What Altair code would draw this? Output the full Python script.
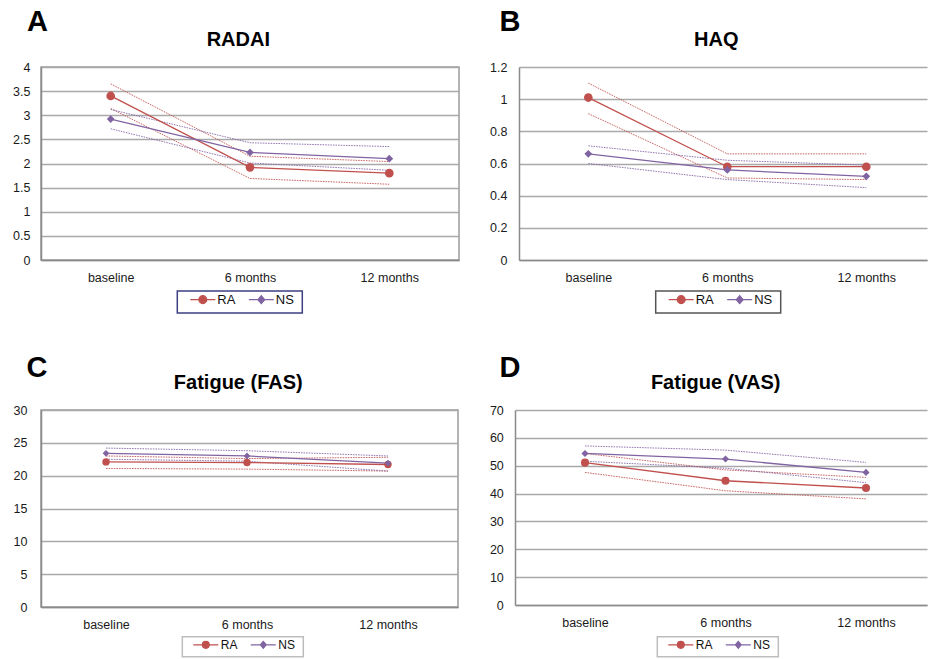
import altair as alt
import pandas as pd

# ---------------- data ----------------
timepoints = ["baseline", "6 months", "12 months"]
series_names = ["RA", "NS"]
series_colors = ["#c0504d", "#8064a2"]

panel_letters = ["A", "B", "C", "D"]
panel_titles = ["RADAI", "HAQ", "Fatigue (FAS)", "Fatigue (VAS)"]

# RADAI
radai_ra_mean = [3.40, 1.92, 1.80]
radai_ra_upper = [3.65, 2.15, 2.04]
radai_ra_lower = [3.14, 1.69, 1.57]
radai_ns_mean = [2.92, 2.23, 2.10]
radai_ns_upper = [3.12, 2.43, 2.35]
radai_ns_lower = [2.72, 2.01, 1.86]
radai_ticks = [0, 0.5, 1, 1.5, 2, 2.5, 3, 3.5, 4]

# HAQ
haq_ra_mean = [1.01, 0.58, 0.58]
haq_ra_upper = [1.10, 0.66, 0.66]
haq_ra_lower = [0.91, 0.51, 0.50]
haq_ns_mean = [0.66, 0.56, 0.52]
haq_ns_upper = [0.71, 0.62, 0.59]
haq_ns_lower = [0.60, 0.50, 0.45]
haq_ticks = [0, 0.2, 0.4, 0.6, 0.8, 1, 1.2]

# Fatigue (FAS)
fas_ra_mean = [22.1, 22.0, 21.7]
fas_ra_upper = [23.0, 22.6, 22.8]
fas_ra_lower = [21.1, 21.0, 20.7]
fas_ns_mean = [23.4, 23.0, 21.9]
fas_ns_upper = [24.2, 23.8, 23.0]
fas_ns_lower = [22.5, 22.2, 20.7]
fas_ticks = [0, 5, 10, 15, 20, 25, 30]

# Fatigue (VAS)
vas_ra_mean = [51.1, 44.6, 42.0]
vas_ra_upper = [54.4, 48.5, 45.8]
vas_ra_lower = [47.6, 41.0, 38.1]
vas_ns_mean = [54.4, 52.4, 47.6]
vas_ns_upper = [57.1, 55.6, 51.2]
vas_ns_lower = [51.6, 49.1, 43.9]
vas_ticks = [0, 10, 20, 30, 40, 50, 60, 70]

FONT = "Liberation Sans"


def make_df(ra_mean, ra_upper, ra_lower, ns_mean, ns_upper, ns_lower):
    rows = []
    groups = {
        "RA": {"mean": ra_mean, "upper": ra_upper, "lower": ra_lower},
        "NS": {"mean": ns_mean, "upper": ns_upper, "lower": ns_lower},
    }
    for s, stats in groups.items():
        for stat, vals in stats.items():
            for i, v in enumerate(vals):
                rows.append({"t": i, "time": timepoints[i], "series": s,
                             "stat": stat, "value": v})
    return pd.DataFrame(rows)


# legend glyphs: short line with a marker on it (units of half the symbol width)
def ra_path(ext_left, r, vy):
    return (f"M{-ext_left},0M0,{-vy}M0,{vy}M-2.5,0L2.5,0"
            f"M{-r},0A{r},{r},0,1,0,{r},0A{r},{r},0,1,0,{-r},0Z")


def ns_path(ext_left, ext_right, dx, dy, vy):
    return (f"M{-ext_left},0M{ext_right},0M0,{-vy}M0,{vy}M-2.5,0L2.5,0"
            f"M0,{-dy}L{dx},0L0,{dy}L{-dx},0Z")


def panel(idx, df, ticks, g):
    xenc = alt.X("t:Q", title=None,
                 scale=alt.Scale(domain=g["xdomain"], nice=False, zero=False),
                 axis=alt.Axis(values=[0, 1, 2], labelExpr=g["label_expr"],
                               grid=False, ticks=False, labelFlush=False,
                               labelPadding=11, labelOverlap=False,
                               domain=True))
    yenc = alt.Y("value:Q", title=None,
                 scale=alt.Scale(domain=[ticks[0], ticks[-1]], nice=False),
                 axis=alt.Axis(values=ticks, labelExpr="toString(datum.value)",
                               grid=True, ticks=False,
                               labelPadding=g["ypad"], domain=True))
    cscale = alt.Scale(domain=series_names, range=series_colors)
    color = alt.Color("series:N", scale=cscale, legend=None)

    base = alt.Chart(df)
    ci = base.mark_line(strokeWidth=1, strokeDash=[1.6, 1], opacity=0.85).encode(
        x=xenc, y=yenc, color=color, detail="stat:N"
    ).transform_filter("datum.stat != 'mean'")
    mean = base.mark_line(strokeWidth=1.3).encode(
        x=xenc, y=yenc, color=color
    ).transform_filter("datum.stat == 'mean'")
    pts_ra = base.mark_point(shape="circle", filled=True, opacity=1,
                             size=g["ra_size"]).encode(
        x=xenc, y=yenc, color=color
    ).transform_filter("datum.stat == 'mean' && datum.series == 'RA'")
    pts_ns = base.mark_point(shape="diamond", filled=True, opacity=1,
                             size=g["ns_size"]).encode(
        x=xenc, y=yenc, color=color
    ).transform_filter("datum.stat == 'mean' && datum.series == 'NS'")

    leg = alt.Legend(orient="none", legendX=g["legx"], legendY=g["legy"],
                     direction="horizontal", title=None, padding=2,
                     strokeColor=g["legstroke"], fillColor="white",
                     cornerRadius=0, labelFont=FONT,
                     labelFontSize=g["legfont"], labelColor="#111111",
                     symbolOffset=g["symoff"], labelOffset=g["laboff"],
                     columnPadding=g["colpad"],
                     symbolSize=100, symbolStrokeWidth=1.1, symbolOpacity=1)
    paths = [ra_path(*g["ra_path"]), ns_path(*g["ns_path"])]
    legend_layer = base.mark_point(filled=True, opacity=0).encode(
        x=xenc, y=yenc,
        fill=alt.Fill("series:N", scale=alt.Scale(domain=series_names, range=series_colors), legend=leg),
        stroke=alt.Stroke("series:N", scale=alt.Scale(domain=series_names, range=series_colors), legend=leg),
        shape=alt.Shape("series:N", scale=alt.Scale(domain=series_names, range=paths), legend=leg),
    ).transform_filter("datum.stat == 'mean'")

    letter = alt.Chart(pd.DataFrame({"letter": [panel_letters[idx]]})).mark_text(
        font=FONT, fontWeight="bold", fontSize=29, align="left",
        baseline="alphabetic", color="black"
    ).encode(text="letter:N", x=alt.value(g["lx"]), y=alt.value(g["ly"]))

    title = alt.Chart(pd.DataFrame({"title": [panel_titles[idx]]})).mark_text(
        font=FONT, fontWeight="bold", fontSize=20, align="center",
        baseline="alphabetic", color="black"
    ).encode(text="title:N", x=alt.value(g["tx"]), y=alt.value(g["ty"]))

    props = dict(width=g["w"], height=g["h"])
    if g["noright"]:
        props["view"] = alt.ViewBackground(stroke="transparent")
    return alt.layer(ci, mean, pts_ra, pts_ns, legend_layer, letter, title).properties(
        **props
    ).resolve_scale(fill="independent", stroke="independent", shape="independent")


label_expr = "[" + ",".join(f"'{t}'" for t in timepoints) + "][datum.value]"

big_leg = dict(legfont=13, symoff=17, laboff=8, colpad=0.5,
               ra_path=(4.4, 0.8, 1.8), ns_path=(4.4, 7.35, 0.7, 0.8, 1.8))
small_leg = dict(legfont=12, symoff=15.5, laboff=9, colpad=1.5,
                 ra_path=(4.1, 0.7, 1.5), ns_path=(4.1, 7.0, 0.6, 0.7, 1.5))

gA = dict(w=418, h=193, xdomain=[-0.5004, 2.5004], label_expr=label_expr, ypad=11,
          ra_size=75, ns_size=60, legx=136.3, legy=224, legstroke="#3c3f82",
          lx=-14, ly=-36.3, tx=197.3, ty=-21.3, noright=False, **big_leg)
gB = dict(w=408, h=193, xdomain=[-0.4986, 2.4367], label_expr=label_expr, ypad=12,
          ra_size=75, ns_size=60, legx=136.7, legy=224, legstroke="#555555",
          lx=-19.4, ly=-36, tx=197.3, ty=-21.3, noright=True, **big_leg)
gC = dict(w=417, h=197, xdomain=[-0.461, 2.4965], label_expr=label_expr, ypad=14,
          ra_size=55, ns_size=45, legx=141.3, legy=226.7, legstroke="#bdbdbd",
          lx=-14.4, ly=-33.3, tx=197.3, ty=-21.4, noright=False, **small_leg)
gD = dict(w=412, h=195, xdomain=[-0.498, 2.434], label_expr=label_expr, ypad=11.7,
          ra_size=65, ns_size=50, legx=142.3, legy=226.7, legstroke="#bdbdbd",
          lx=-15.5, ly=-33, tx=200.7, ty=-21.4, noright=True, **small_leg)

pA = panel(0, make_df(radai_ra_mean, radai_ra_upper, radai_ra_lower,
                      radai_ns_mean, radai_ns_upper, radai_ns_lower), radai_ticks, gA)
pB = panel(1, make_df(haq_ra_mean, haq_ra_upper, haq_ra_lower,
                      haq_ns_mean, haq_ns_upper, haq_ns_lower), haq_ticks, gB)
pC = panel(2, make_df(fas_ra_mean, fas_ra_upper, fas_ra_lower,
                      fas_ns_mean, fas_ns_upper, fas_ns_lower), fas_ticks, gC)
pD = panel(3, make_df(vas_ra_mean, vas_ra_upper, vas_ra_lower,
                      vas_ns_mean, vas_ns_upper, vas_ns_lower), vas_ticks, gD)

indep = dict(x="independent", y="independent", color="independent",
             fill="independent", stroke="independent", shape="independent")
leg_indep = dict(fill="independent", stroke="independent", shape="independent")

row1 = alt.hconcat(pA, pB, spacing=60, bounds="flush").resolve_scale(**indep).resolve_legend(**leg_indep)
row2 = alt.hconcat(pC, pD, spacing=57, bounds="flush").resolve_scale(**indep).resolve_legend(**leg_indep)

chart = alt.vconcat(row1, row2, spacing=343, bounds="flush").resolve_scale(**indep).resolve_legend(
    **leg_indep
).properties(
    padding={"left": 11, "top": 6, "right": 0, "bottom": 0},
    background="white",
).configure_axis(
    labelFont=FONT, labelFontSize=12.5, labelColor="#1a1a1a",
    gridColor="#a9a9a9", gridWidth=1.4,
    domainColor="#8a8a8a", domainWidth=1.5,
).configure_view(
    stroke="#9c9c9c", strokeWidth=1.5,
).configure_legend(
    strokeWidth=1.5,
)

chart.save("out.html", embed_options={"renderer": "svg", "actions": False})
